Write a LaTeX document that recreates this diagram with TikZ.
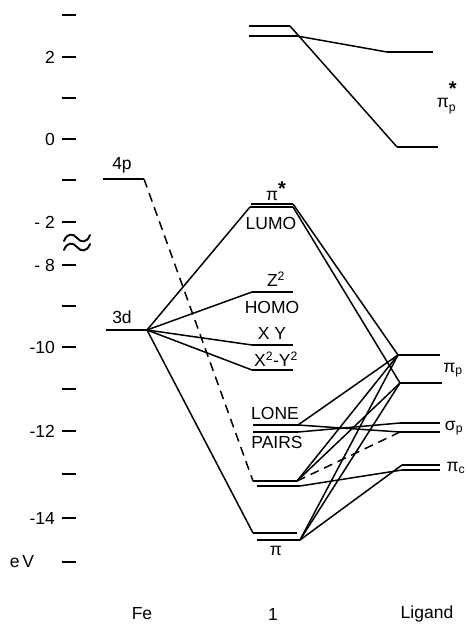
\documentclass[tikz,border=0pt]{standalone}
\usepackage{fontspec}
\setmainfont{Liberation Sans}
\usepackage{amsmath}
\newcommand{\bigstar}{\raisebox{5pt}{\fontsize{20}{20}\selectfont\textbf{*}}}
\begin{document}
\begin{tikzpicture}[x=1pt,y=-1pt,
  level/.style={line width=1.9pt},
  link/.style={line width=1.5pt},
  dlink/.style={line width=1.5pt, dash pattern=on 9pt off 6pt},
  tick/.style={line width=2.4pt},
  brkline/.style={line width=1.9pt, line cap=round},
  lbl/.style={inner sep=0pt, font=\fontsize{17.5}{19}\selectfont},
]
\useasboundingbox (0,0) rectangle (468,626);

% energy axis
\foreach \y in {15,57,98,139,180,222,265,306,347,389,431,474,518,562}
  \draw[tick] (62,\y) -- (76,\y);
\foreach \y/\t in {57/2,139/0,222/{- 2},265/{- 8},347/{-10},431/{-12},518/{-14}}
  \node[lbl, anchor=east] at (55,\y) {\t};
\node[lbl] (ev) at (22,562) {e\,V};
% axis break (two wavy strokes)
\coordinate (brkA) at (64,241); \coordinate (brkB) at (90,235);
\coordinate (brkC) at (64,250); \coordinate (brkD) at (90,244);
\draw[brkline] (brkA) .. controls (67,233) and (73,233) .. (77,238)
  .. controls (81,243) and (87,243) .. (brkB);
\draw[brkline] (brkC) .. controls (67,242) and (73,242) .. (77,247)
  .. controls (81,252) and (87,252) .. (brkD);

% Fe levels
\coordinate (p4L) at (103,179); \coordinate (p4R) at (144,179);
\coordinate (d3L) at (106,330); \coordinate (d3R) at (147,330);
\draw[level] (p4L) -- (p4R);
\draw[level] (d3L) -- (d3R);
\node[lbl] (p4t) at (122,165) {4p};
\node[lbl] (d3t) at (122,317) {3d};

% complex levels
\coordinate (t1L) at (249,26);   \coordinate (t1R) at (290,26);
\coordinate (t2L) at (249,36);   \coordinate (t2R) at (297,36);
\coordinate (luAL) at (251,204); \coordinate (luAR) at (293,204);
\coordinate (luBL) at (250,207); \coordinate (luBR) at (293,207);
\coordinate (z2L) at (252,292);  \coordinate (z2R) at (293,292);
\coordinate (xyL) at (252,345);  \coordinate (xyR) at (293,345);
\coordinate (x2L) at (252,370);  \coordinate (x2R) at (293,370);
\coordinate (lnAL) at (253,425); \coordinate (lnAR) at (298,425);
\coordinate (lnBL) at (253,432); \coordinate (lnBR) at (298,432);
\coordinate (c1L) at (253,481);  \coordinate (c1R) at (297,481);
\coordinate (c2L) at (257,486);  \coordinate (c2R) at (300,486);
\coordinate (piAL) at (253,533); \coordinate (piAR) at (297,533);
\coordinate (piBL) at (257,540); \coordinate (piBR) at (300,540);
\foreach \n in {t1,t2,luA,luB,z2,xy,x2,lnA,lnB,c1,c2,piA,piB}
  \draw[level] (\n L) -- (\n R);

% ligand levels
\coordinate (s1L) at (387,52);  \coordinate (s1R) at (433,52);
\coordinate (s2L) at (397,147); \coordinate (s2R) at (438,147);
\coordinate (pp1L) at (398,355); \coordinate (pp1R) at (440,355);
\coordinate (pp2L) at (400,383); \coordinate (pp2R) at (442,383);
\coordinate (sp1L) at (400,423); \coordinate (sp1R) at (440,423);
\coordinate (sp2L) at (400,432); \coordinate (sp2R) at (440,432);
\coordinate (pc1L) at (402,465); \coordinate (pc1R) at (440,465);
\coordinate (pc2L) at (402,470); \coordinate (pc2R) at (440,470);
\foreach \n in {s1,s2,pp1,pp2,sp1,sp2,pc1,pc2}
  \draw[level] (\n L) -- (\n R);

% correlation lines
\draw[link] (t1R) -- (s2L);
\draw[link] (t2R) -- (s1L);
\draw[link] (d3R) -- (luBL);
\draw[link] (d3R) -- (z2L);
\draw[link] (d3R) -- (xyL);
\draw[link] (d3R) -- (x2L);
\draw[link] (d3R) -- (piAL);
\draw[dlink] (p4R) -- (c1L);
\draw[link] (luAR) -- (pp1L);
\draw[link] (luBR) -- (pp2L);
\draw[link] (lnAR) -- (sp2L);
\draw[link] (lnBR) -- (sp1L);
\draw[link] (lnAR) -- (pp1L);
\draw[link] (c1R) -- (pp1L);
\draw[link] (c1R) -- (pp2L);
\draw[dlink] (c1R) -- (sp2L);
\draw[link] (c2R) -- (pc2L);
\draw[link] (piBR) -- (pp1L);
\draw[link] (piBR) -- (pp2L);
\draw[link] (piBR) -- (pc1L);

% level labels
\node[lbl] (pist) at (276,191) {π\bigstar};
\node[lbl] (lumo) at (271,223) {LUMO};
\node[lbl] (z2t) at (276,279) {Z\textsuperscript{2}};
\node[lbl] (homo) at (272,307) {HOMO};
\node[lbl] (xyt) at (272,333) {X Y};
\node[lbl] (x2t) at (276,359) {X\textsuperscript{2}-Y\textsuperscript{2}};
\node[lbl] (lone) at (275,413) {LONE};
\node[lbl] (pairs) at (277,442) {PAIRS};
\node[lbl] (pib) at (276,551) {π};
\node[lbl] (pps) at (447,98) {π$^{\bigstar}_{\text{p}}$};
\node[lbl] (ppt) at (453,370) {π\textsubscript{p}};
\node[lbl] (spt) at (454,428) {σ\textsubscript{p}};
\node[lbl] (pct) at (456,468) {π\textsubscript{c}};

% column captions
\node[lbl] (fe) at (142,614) {Fe};
\node[lbl] (one) at (273,614) {1};
\node[lbl] (lig) at (427,614) {Ligand};
\end{tikzpicture}
\end{document}
